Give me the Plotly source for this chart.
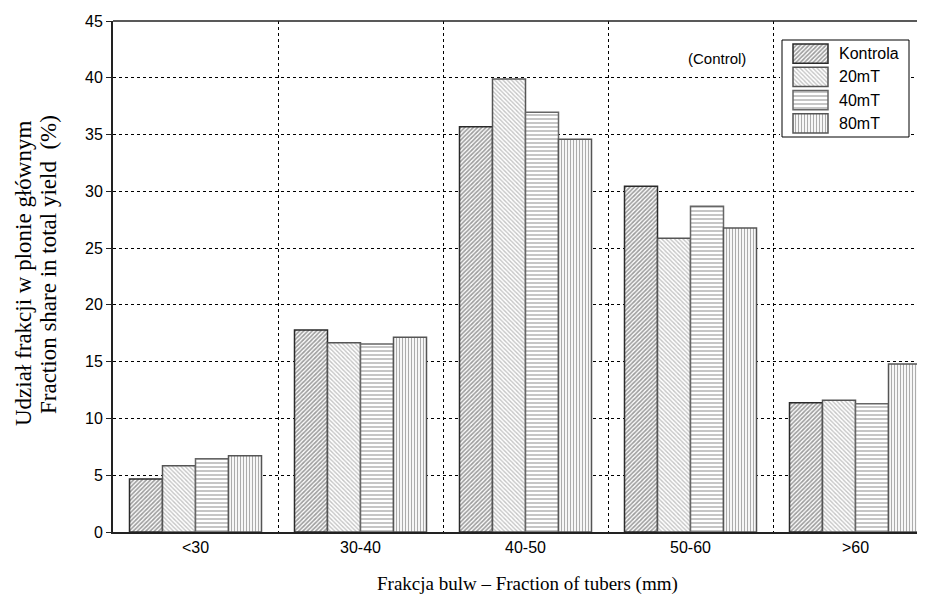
import plotly.graph_objects as go

# ---------------- data ----------------
categories = ["<30", "30-40", "40-50", "50-60", ">60"]
series_names = ["Kontrola", "20mT", "40mT", "80mT"]
kontrola = [4.67, 17.79, 35.69, 30.44, 11.39]
mt20 = [5.84, 16.67, 39.9, 25.86, 11.6]
mt40 = [6.46, 16.56, 36.96, 28.68, 11.3]
mt80 = [6.72, 17.14, 34.58, 26.77, 14.79]
y_ticks = [0, 5, 10, 15, 20, 25, 30, 35, 40, 45]
y_title_lines = ["Udział frakcji w plonie głównym", "Fraction share in total yield  (%)"]
x_title = "Frakcja bulw – Fraction of tubers (mm)"
note_text = "(Control)"

series_values = [kontrola, mt20, mt40, mt80]

# ---------------- geometry (screen pixels) ----------------
OFF = 8  # page body margin
W, H = 925 - OFF, 597 - OFF
SL, ST, SB = 113, 21, 532     # plot left, top, bottom in screen px
L = SL - OFF
T = ST - OFF
B = H - (SB - OFF)
R = 0
PW = W - L - R
PH = H - T - B
BAND = 165.0  # pixel width of one category band


def px(xs):
    return (xs - SL) / PW


def py(ys):
    return (SB - ys) / PH


patterns = [
    dict(shape="/", size=3, solidity=0.55, fgcolor="#3c3c3c", bgcolor="white"),
    dict(shape="\\", size=3, solidity=0.45, fgcolor="#8a8a8a", bgcolor="white"),
    dict(shape="-", size=4, solidity=0.35, fgcolor="#5a5a5a", bgcolor="white"),
    dict(shape="|", size=3, solidity=0.4, fgcolor="#5a5a5a", bgcolor="white"),
]
outline = ["#2a2a2a", "#555555", "#666666", "#555555"]

serif = "Liberation Serif, Times New Roman, serif"
sans = "Liberation Sans, Arial, sans-serif"

fig = go.Figure()

xpos = list(range(len(categories)))
for name, vals, pat, oc in zip(series_names, series_values, patterns, outline):
    fig.add_trace(go.Bar(
        x=xpos, y=vals, name=name, showlegend=False,
        marker=dict(color="white", pattern=pat, line=dict(color=oc, width=1.5)),
    ))

# legend background (subplot 2)
bx0, bx1, by0, by1 = 782, 909, 40, 137
pad = 2
fig.add_trace(go.Bar(
    x=[1], y=[0], base=[0], orientation="h", width=[1], showlegend=False,
    xaxis="x2", yaxis="y2", hoverinfo="skip",
    marker=dict(color="white", line=dict(color="black", width=1)),
))

# legend swatches (subplot 3)
sx0, sx1, sy0, sy1 = 793, 828, 42, 135
fig.add_trace(go.Bar(
    x=[1, 1, 1, 1], y=[0, 1, 2, 3], base=[0, 0, 0, 0], orientation="h",
    width=[0.82] * 4, showlegend=False, xaxis="x3", yaxis="y3", hoverinfo="skip",
    marker=dict(
        color="white",
        pattern=dict(
            shape=[p["shape"] for p in patterns],
            size=[p["size"] for p in patterns],
            solidity=[p["solidity"] for p in patterns],
            fgcolor=[p["fgcolor"] for p in patterns],
            bgcolor="white",
        ),
        line=dict(color=outline, width=1.5),
    ),
))

annotations = []
slot = (sy1 - sy0) / 4.0
for i, name in enumerate(series_names):
    yc = sy0 + slot * (i + 0.5)
    annotations.append(dict(
        x=px(837), y=py(yc), xref="paper", yref="paper", text=name,
        showarrow=False, xanchor="left", yanchor="middle",
        font=dict(family=sans, size=16, color="black"),
    ))
annotations.append(dict(
    x=px(717), y=py(58), xref="paper", yref="paper", text=note_text,
    showarrow=False, xanchor="center", yanchor="middle",
    font=dict(family=sans, size=15, color="black"),
))
# axis titles
annotations.append(dict(
    x=px(527), y=py(584), xref="paper", yref="paper", text=x_title,
    showarrow=False, xanchor="center", yanchor="middle",
    font=dict(family=serif, size=19, color="black"),
))
annotations.append(dict(
    x=px(23), y=py(274), xref="paper", yref="paper", text=y_title_lines[0],
    showarrow=False, xanchor="center", yanchor="middle", textangle=-90,
    font=dict(family=serif, size=23, color="black"),
))
annotations.append(dict(
    x=px(48), y=py(265), xref="paper", yref="paper", text=y_title_lines[1],
    showarrow=False, xanchor="center", yanchor="middle", textangle=-90,
    font=dict(family=serif, size=23, color="black"),
))

xmax = -0.5 + PW / BAND

fig.update_layout(
    width=W, height=H,
    margin=dict(l=L, r=R, t=T, b=B, pad=0),
    paper_bgcolor="white", plot_bgcolor="white",
    barmode="group", bargap=0.2, bargroupgap=0,
    showlegend=False,
    xaxis=dict(
        range=[-0.5, xmax], tickmode="array", tickvals=xpos, ticktext=categories,
        showgrid=False, zeroline=False, showline=True, linecolor="#222222", linewidth=2,
        ticks="", tickfont=dict(family=sans, size=16, color="black"),
        minor=dict(tickmode="array", tickvals=[0.5, 1.5, 2.5, 3.5], showgrid=True,
                   gridcolor="black", griddash="dot", gridwidth=1, ticks=""),
        fixedrange=True,
    ),
    yaxis=dict(
        range=[0, 45], tickmode="array", tickvals=y_ticks,
        showgrid=True, gridcolor="black", griddash="dot", gridwidth=1,
        zeroline=False, showline=True, linecolor="#222222", linewidth=2,
        ticks="outside", ticklen=5, tickcolor="#222222",
        tickfont=dict(family=sans, size=16, color="black"), fixedrange=True,
    ),
    xaxis2=dict(domain=[px(bx0 - pad), px(bx1 + pad)],
                range=[-pad / (bx1 - bx0), 1 + pad / (bx1 - bx0)],
                visible=False, anchor="y2", fixedrange=True),
    yaxis2=dict(domain=[py(by1 + pad), py(by0 - pad)],
                range=[-0.5 - pad / (by1 - by0), 0.5 + pad / (by1 - by0)],
                visible=False, anchor="x2", fixedrange=True),
    xaxis3=dict(domain=[px(sx0 - pad), px(sx1 + pad)],
                range=[-pad / (sx1 - sx0), 1 + pad / (sx1 - sx0)],
                visible=False, anchor="y3", fixedrange=True),
    yaxis3=dict(domain=[py(sy1), py(sy0)], range=[3.5, -0.5],
                visible=False, anchor="x3", fixedrange=True),
    annotations=annotations,
    shapes=[dict(type="line", xref="paper", yref="paper", x0=0, x1=1, y0=1, y1=1,
                 line=dict(color="#222222", width=1.5), layer="above")],
)

fig.write_html("out.html", config={"displayModeBar": False})
